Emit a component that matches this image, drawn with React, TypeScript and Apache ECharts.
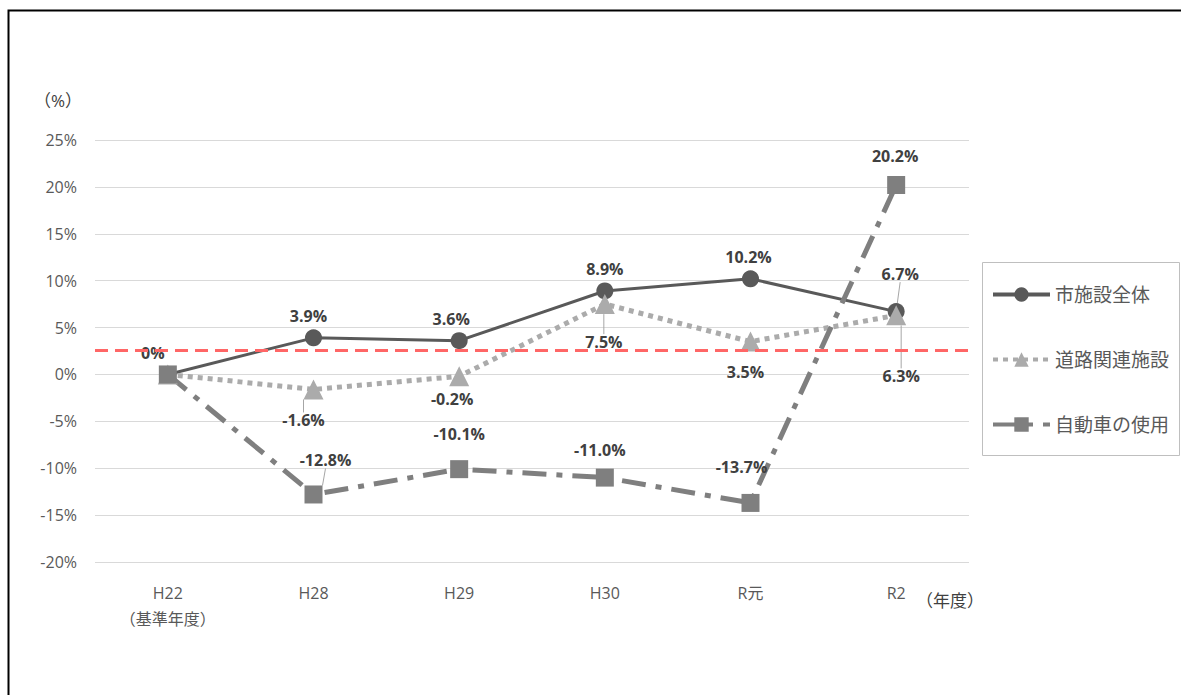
import React, { useEffect, useRef } from "react";
import * as echarts from "echarts";

const categories = ["H22\n（基準年度）", "H28", "H29", "H30", "R元", "R2"];
const seriesNames = ["市施設全体", "道路関連施設", "自動車の使用"];
const cityAll = [0, 3.9, 3.6, 8.9, 10.2, 6.7];
const roadFacilities = [0, -1.6, -0.2, 7.5, 3.5, 6.3];
const carUse = [0, -12.8, -10.1, -11.0, -13.7, 20.2];
const targetLine = 2.6;
const yTicks = { min: -20, max: 25, interval: 5 };

const FONT = "'Open Sans', 'Noto Sans CJK JP', sans-serif";

const offsets0 = [[-15, 0], [-5, 0], [-8, 0], [0, 0], [-2, 0], [4, -16]];
const offsets1 = [[0, 0], [-10, 8], [-7, 0], [-1, 15], [-5, 7], [5, 38]];
const offsets2 = [[0, 0], [12, -12], [0, -13], [-5, -6], [-9, -14], [-1, -7]];
const guide0 = [false, false, false, false, false, true];
const guide1 = [false, true, false, true, false, true];
const guide2 = [false, true, false, false, false, false];

function fmt(v: number) {
  return v === 0 ? "0%" : v.toFixed(1) + "%";
}

export default function App() {
  const ref = useRef<HTMLDivElement>(null);
  useEffect(() => {
    if (!ref.current) return;
    const chart = echarts.init(ref.current, null, { renderer: "svg" });
    const labelBase = {
      show: true,
      fontFamily: FONT,
      fontWeight: "bold" as const,
      fontSize: 16,
      color: "#404040",
      formatter: (p: any) => fmt(p.value),
    };
    const mkData = (vals: number[], guides: boolean[], hideFirst: boolean) =>
      vals.map((v, i) => ({
        value: v,
        label: hideFirst && i === 0 ? { show: false } : undefined,
        labelLine: guides[i] ? { show: true, lineStyle: { color: "#A6A6A6", width: 1 } } : undefined,
      }));
    const mkLayout = (offs: number[][]) => (p: any) => ({
      dx: offs[p.dataIndex][0],
      dy: offs[p.dataIndex][1],
    });
    chart.setOption({
      animation: false,
      grid: { left: 95, right: 212, top: 140, bottom: 133 },
      xAxis: {
        type: "category",
        data: categories,
        boundaryGap: true,
        axisLine: { show: false },
        axisTick: { show: false },
        axisLabel: {
          color: "#595959",
          fontSize: 16,
          fontFamily: FONT,
          margin: 18,
          lineHeight: 26,
        },
      },
      yAxis: {
        type: "value",
        min: yTicks.min,
        max: yTicks.max,
        interval: yTicks.interval,
        axisLine: { show: false },
        axisTick: { show: false },
        axisLabel: {
          formatter: "{value}%",
          color: "#595959",
          fontSize: 16,
          fontFamily: FONT,
          margin: 18,
        },
        splitLine: { lineStyle: { color: "#D9D9D9", width: 1 } },
      },
      legend: {
        orient: "vertical",
        left: 991,
        top: 285,
        padding: 0,
        itemWidth: 57,
        itemHeight: 18,
        itemGap: 46,
        lineStyle: { width: 4 },
        textStyle: { color: "#595959", fontSize: 19, fontFamily: FONT },
        data: seriesNames,
      },
      graphic: [
        {
          type: "rect",
          shape: { x: 8.5, y: 10.5, width: 1200, height: 800 },
          style: { fill: "none", stroke: "#000", lineWidth: 2 },
          silent: true,
        },
        {
          type: "rect",
          shape: { x: 982.5, y: 262.5, width: 197, height: 193 },
          style: { fill: "none", stroke: "#BFBFBF", lineWidth: 1 },
          silent: true,
        },
        {
          type: "text",
          x: 58,
          y: 100,
          style: {
            text: "（%）",
            fill: "#404040",
            fontSize: 17,
            fontFamily: FONT,
            align: "center",
            verticalAlign: "middle",
          },
        },
        {
          type: "text",
          x: 950,
          y: 600,
          style: {
            text: "（年度）",
            fill: "#404040",
            fontSize: 17,
            fontFamily: FONT,
            align: "center",
            verticalAlign: "middle",
          },
        },
      ],
      series: [
        {
          name: seriesNames[0],
          type: "line",
          data: mkData(cityAll, guide0, false),
          symbol: "circle",
          symbolSize: 17,
          itemStyle: { color: "#595959" },
          lineStyle: { color: "#595959", width: 3 },
          label: { ...labelBase, position: "top" },
          labelLayout: mkLayout(offsets0),
          markLine: {
            silent: true,
            symbol: "none",
            label: { show: false },
            lineStyle: { color: "#FF6666", type: [13, 7], width: 3 },
            data: [{ yAxis: targetLine }],
          },
        },
        {
          name: seriesNames[1],
          type: "line",
          data: mkData(roadFacilities, guide1, true),
          symbol: "triangle",
          symbolSize: 20,
          itemStyle: { color: "#ABABAB" },
          lineStyle: { color: "#ABABAB", width: 5, type: [5, 5] },
          label: { ...labelBase, position: "bottom" },
          labelLayout: mkLayout(offsets1),
        },
        {
          name: seriesNames[2],
          type: "line",
          data: mkData(carUse, guide2, true),
          symbol: "rect",
          symbolSize: 18,
          itemStyle: { color: "#7F7F7F" },
          lineStyle: { color: "#7F7F7F", width: 5, type: [24, 10, 6, 10] },
          label: { ...labelBase, position: "top" },
          labelLayout: mkLayout(offsets2),
        },
      ],
    });
    return () => chart.dispose();
  }, []);
  return (
    <div
      ref={ref}
      style={{ position: "fixed", left: 0, top: 0, width: 1181, height: 695, background: "#fff" }}
    />
  );
}
